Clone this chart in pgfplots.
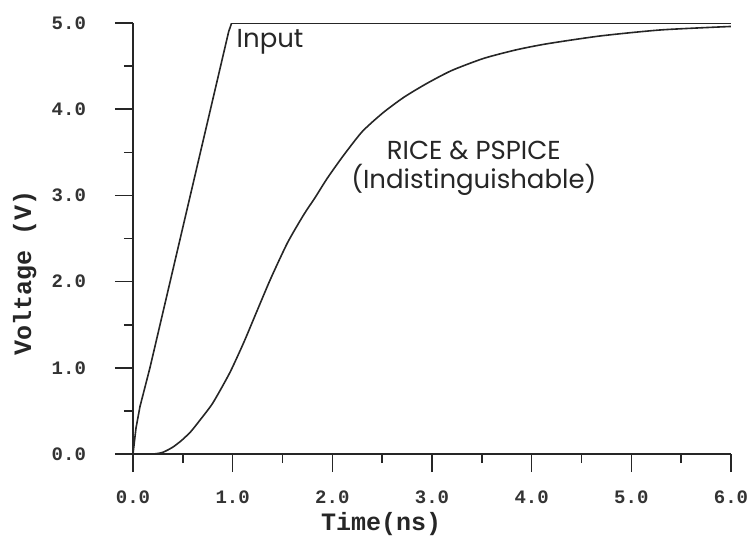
\documentclass[border=0pt]{standalone}
\usepackage{fontspec}
\setmainfont{Liberation Mono}
\newfontfamily\annotfont{Poppins}
\usepackage{pgfplots}
\pgfplotsset{compat=1.18}

\begin{document}
\begin{tikzpicture}
\begin{axis}[
    name=ax, at={(0,0)}, anchor=south west,
    scale only axis, width=299pt, height=215.5pt,
    xmin=0, xmax=6, ymin=0, ymax=5,
    axis x line=bottom, axis y line=left,
    axis line style={-, line width=0.8pt, black!85},
    tick align=outside,
    xtick={0,1,...,6}, ytick={0,1,...,5},
    minor x tick num=1, minor y tick num=1,
    major tick length=9pt, minor tick length=4.5pt,
    tick style={line width=0.8pt, black!85},
    /pgf/number format/fixed,
    /pgf/number format/fixed zerofill,
    /pgf/number format/precision=1,
    /pgf/number format/assume math mode=true,
    every tick label/.append style={font=\fontsize{9.5}{11}\selectfont\bfseries, text=black!80},
    yticklabel style={xshift=-11pt},
    xticklabel style={yshift=-6pt},
    xlabel={Time(ns)}, ylabel={Voltage (V)},
    label style={font=\fontsize{12.5}{14}\selectfont\bfseries, text=black!85},
    xlabel style={at={(axis description cs:0.415,-0.163)}, anchor=center},
    ylabel style={at={(axis description cs:-0.181,0.42)}, anchor=center, rotate=0},
]
% input ramp
\addplot[black!85, line width=0.8pt] coordinates {
    (0,0) (0.03,0.3) (0.07,0.55) (0.17,1.0) (0.96,4.9) (0.99,5.0) (6,5.0)
};
% short vertical trace at t = 0
\addplot[black!85, line width=0.8pt] coordinates {(0,0) (0,1.3)};
% RICE & PSPICE response
\addplot[black!85, line width=0.8pt, smooth, tension=0.4] coordinates {
    (0,0) (0.2,0) (0.3,0.02) (0.4,0.08) (0.49,0.16) (0.58,0.26) (0.67,0.39)
    (0.8,0.59) (0.97,0.94) (1.11,1.29) (1.23,1.62) (1.38,2.03) (1.55,2.45)
    (1.71,2.77) (1.83,2.98) (1.95,3.20) (2.11,3.46) (2.3,3.74) (2.51,3.96)
    (2.72,4.14) (2.95,4.30) (3.2,4.45) (3.52,4.59) (3.85,4.69) (4.16,4.76)
    (4.69,4.85) (5.30,4.92) (6,4.96)
};
\node[anchor=west, font=\annotfont\fontsize{13}{15}\selectfont, text=black!85]
    at (axis cs:0.97,4.78) {Input};
\node[align=center, font=\annotfont\fontsize{13}{14.5}\selectfont, text=black!85]
    at (axis cs:3.42,3.31) {RICE \& PSPICE\\(Indistinguishable)};
\end{axis}
\pgfresetboundingbox
\path[use as bounding box] ([xshift=-66.5pt,yshift=-41.5pt]ax.south west)
    rectangle ([xshift=309.5pt,yshift=227pt]ax.south west);
\end{tikzpicture}
\end{document}
